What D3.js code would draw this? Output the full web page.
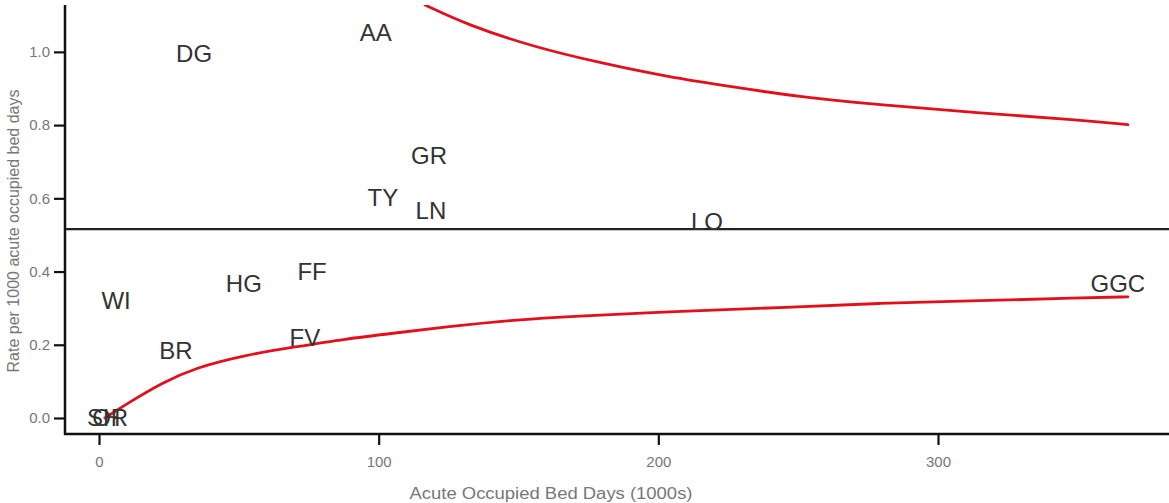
<!DOCTYPE html>
<html>
<head>
<meta charset="utf-8">
<script src="https://cdn.jsdelivr.net/npm/d3@7"></script>
<style>
  html, body { margin: 0; padding: 0; background: #fff; }
  svg { display: block; font-family: "Liberation Sans", Arial, sans-serif; }
  .tick text { fill: #777; font-size: 15px; }
  .axis path, .axis line { stroke: #111; }
  .board { fill: #333; font-size: 24px; text-anchor: middle; dominant-baseline: central; }
  .title { fill: #777; font-size: 16px; text-anchor: middle; }
</style>
</head>
<body>
<script>
// Health board labels (bed days in 1000s, rate per 1000 bed days)
var boards = ["DG", "AA", "GR", "TY", "LN", "LO", "WI", "HG", "FF", "BR", "FV", "GGC", "SH", "OR"];
var bedDays = [34.0, 99.0, 118.0, 101.5, 118.7, 217.4, 6.1, 51.8, 76.2, 27.5, 73.6, 364.3, 1.7, 4.0];
var rates = [0.995, 1.052, 0.716, 0.601, 0.566, 0.537, 0.322, 0.366, 0.399, 0.183, 0.219, 0.366, 0.0, 0.0];

// overall mean rate
var meanRate = 0.516;

// control limits
var upperX = [116.6, 131.6, 155.2, 179.1, 203.1, 226.7, 250.6, 279.3, 315.0, 350.8, 367.9];
var upperY = [1.128, 1.074, 1.014, 0.970, 0.932, 0.904, 0.877, 0.855, 0.833, 0.814, 0.801];
var lowerX = [2.1, 10.4, 22.5, 34.3, 52.2, 70.1, 88.0, 105.8, 124.4, 148.0, 172.0, 195.9, 219.5, 243.5, 279.3, 315.0, 350.8, 367.9];
var lowerY = [0.000, 0.041, 0.096, 0.137, 0.172, 0.194, 0.216, 0.232, 0.249, 0.268, 0.279, 0.287, 0.295, 0.301, 0.314, 0.320, 0.328, 0.331];

var xTicks = [0, 100, 200, 300];
var yTicks = [0, 0.2, 0.4, 0.6, 0.8, 1.0];

var W = 1169, H = 503
  , margin = { top: 5, right: 0, bottom: 69, left: 65 }
  , width = W - margin.left - margin.right
  , height = H - margin.top - margin.bottom
;

var svg = d3.select("body").append("svg")
    .attr("width", W)
    .attr("height", H)
;
var g = svg.append("g")
    .attr("transform", "translate(" + margin.left + "," + margin.top + ")")
;

var x = d3.scaleLinear().domain([-12.16, 382.6]).range([0, width]);
var y = d3.scaleLinear().domain([-0.0437, 1.128]).range([height, 0]);

g.append("clipPath").attr("id", "plot")
  .append("rect")
    .attr("width", width)
    .attr("height", height)
;

// axes
var yAxis = g.append("g")
    .attr("class", "axis")
    .call(d3.axisLeft(y).tickValues(yTicks).tickFormat(d3.format(".1f")).tickSize(11).tickPadding(4))
;
var xAxis = g.append("g")
    .attr("class", "axis")
    .attr("transform", "translate(0," + height + ")")
    .call(d3.axisBottom(x).tickValues(xTicks).tickSize(11).tickPadding(11))
;
[yAxis, xAxis].forEach(function(a) {
    a.select(".domain").remove();
    a.selectAll(".tick line").attr("stroke-width", 2.2);
});
g.append("line")
    .attr("x1", 0).attr("x2", 0)
    .attr("y1", 0).attr("y2", height + 1)
    .attr("stroke", "#111").attr("stroke-width", 2.5)
;
g.append("line")
    .attr("x1", -1).attr("x2", width)
    .attr("y1", height).attr("y2", height)
    .attr("stroke", "#111").attr("stroke-width", 2.5)
;

// mean line
g.append("line")
    .attr("x1", 0).attr("x2", width)
    .attr("y1", y(meanRate)).attr("y2", y(meanRate))
    .attr("stroke", "#222").attr("stroke-width", 2.3)
;

// funnel limits
var line = d3.line()
    .x(function(d) { return x(d[0]); })
    .y(function(d) { return y(d[1]); })
    .curve(d3.curveBasis)
;
[[upperX, upperY], [lowerX, lowerY]].forEach(function(s) {
    g.append("path")
        .datum(d3.zip(s[0], s[1]))
        .attr("clip-path", "url(#plot)")
        .attr("fill", "none")
        .attr("stroke", "#e3101c")
        .attr("stroke-width", 2.8)
        .attr("stroke-linecap", "round")
        .attr("d", line)
    ;
});

// board labels
g.selectAll("text.board")
    .data(d3.range(boards.length))
  .enter().append("text")
    .attr("class", "board")
    .attr("x", function(i) { return x(bedDays[i]); })
    .attr("y", function(i) { return y(rates[i]); })
    .text(function(i) { return boards[i]; })
;

// titles
svg.append("text")
    .attr("class", "title")
    .attr("x", 551).attr("y", 499)
    .attr("textLength", 283)
    .attr("lengthAdjust", "spacingAndGlyphs")
    .text("Acute Occupied Bed Days (1000s)")
;
svg.append("text")
    .attr("class", "title")
    .attr("dominant-baseline", "central")
    .attr("transform", "translate(13,231) rotate(-90)")
    .text("Rate per 1000 acute occupied bed days")
;
</script>
</body>
</html>
